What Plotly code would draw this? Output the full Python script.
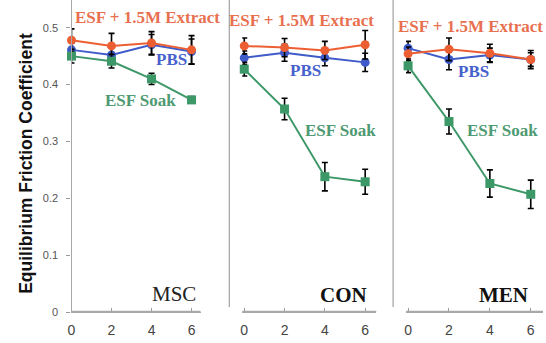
import plotly.graph_objects as go

W, H = 546, 343
PLOT_BOTTOM = 312  # pixel of y=0

days = [0, 2, 4, 6]
panels = ["MSC", "CON", "MEN"]

extract_vals = {
    "MSC": [0.478, 0.468, 0.473, 0.461],
    "CON": [0.468, 0.465, 0.460, 0.470],
    "MEN": [0.454, 0.462, 0.455, 0.444],
}
extract_err = {
    "MSC": [0.020, 0.022, 0.020, 0.025],
    "CON": [0.014, 0.016, 0.016, 0.025],
    "MEN": [0.012, 0.020, 0.016, 0.016],
}
pbs_vals = {
    "MSC": [0.461, 0.452, 0.470, 0.458],
    "CON": [0.447, 0.456, 0.447, 0.439],
    "MEN": [0.464, 0.444, 0.452, 0.444],
}
pbs_err = {
    "MSC": [0.012, 0.015, 0.018, 0.022],
    "CON": [0.012, 0.015, 0.014, 0.016],
    "MEN": [0.012, 0.018, 0.012, 0.012],
}
soak_vals = {
    "MSC": [0.450, 0.441, 0.410, 0.373],
    "CON": [0.427, 0.357, 0.238, 0.229],
    "MEN": [0.433, 0.335, 0.226, 0.207],
}
soak_err = {
    "MSC": [0.012, 0.012, 0.010, 0.006],
    "CON": [0.012, 0.019, 0.025, 0.022],
    "MEN": [0.012, 0.022, 0.024, 0.025],
}

y_ticks = [0, 0.1, 0.2, 0.3, 0.4, 0.5]
y_ticktext = ["0", "0.1", "0.2", "0.3", "0.4", "0.5"]
x_ticks = [0, 2, 4, 6]
y_title = "Equilibrium Friction Coefficient"

C_EXT = "#EC5F33"
C_PBS = "#3F5BC9"
C_SOAK = "#3D9868"
T_EXT = "#E8704F"
T_PBS = "#4660CC"
T_SOAK = "#4E9A72"
AXIS_GRAY = "#a8a8a8"


def px(x):
    return x / W


def py(y):
    return (PLOT_BOTTOM - y) / PLOT_BOTTOM


x_domains = [(68, 198), (240, 375), (405, 543)]
x_ranges = [[0, 6.45], [-0.1, 6.55], [-0.1, 6.6]]
y_range = [0, 0.5487]

fig = go.Figure()

for i, p in enumerate(panels):
    xa = "x" if i == 0 else f"x{i+1}"
    ya = "y" if i == 0 else f"y{i+1}"
    for vals, errs, color, sym in [
        (pbs_vals, pbs_err, C_PBS, "circle"),
        (extract_vals, extract_err, C_EXT, "circle"),
        (soak_vals, soak_err, C_SOAK, "square"),
    ]:
        fig.add_trace(go.Scatter(
            x=days, y=vals[p], xaxis=xa, yaxis=ya,
            mode="lines+markers",
            line=dict(color=color, width=2),
            marker=dict(color=color, size=9, symbol=sym),
            error_y=dict(type="data", array=errs[p], color="black",
                         thickness=1.6, width=3),
            cliponaxis=False, showlegend=False,
        ))

layout = dict(
    width=W, height=H,
    margin=dict(l=0, r=0, t=0, b=H - PLOT_BOTTOM),
    paper_bgcolor="white", plot_bgcolor="rgba(0,0,0,0)",
    showlegend=False,
)

for i in range(3):
    xk = "xaxis" if i == 0 else f"xaxis{i+1}"
    yk = "yaxis" if i == 0 else f"yaxis{i+1}"
    d0, d1 = x_domains[i]
    layout[xk] = dict(
        domain=[px(d0), px(d1)], range=x_ranges[i],
        anchor="y" if i == 0 else f"y{i+1}",
        tickvals=x_ticks, ticks="inside", ticklen=4, tickcolor="#999",
        showline=True, linecolor=AXIS_GRAY, linewidth=1.3,
        showgrid=False, zeroline=False,
        tickfont=dict(family="Arial, Liberation Sans", size=14, color="#444"),
        ticklabelstandoff=5,
    )
    if i == 0:
        layout[yk] = dict(
            domain=[0, 1], range=y_range, anchor="x",
            tickvals=y_ticks, ticktext=y_ticktext,
            ticks="outside", ticklen=4, tickcolor="#999",
            showline=True, linecolor=AXIS_GRAY, linewidth=1.3,
            showgrid=False, zeroline=False,
            tickfont=dict(family="Arial, Liberation Sans", size=11, color="#555"),
            ticklabelstandoff=6,
        )
    else:
        layout[yk] = dict(
            domain=[0, 1], range=y_range, anchor=f"x{i+1}",
            visible=False, showgrid=False, zeroline=False,
        )

fig.update_layout(**layout)

# panel separators
for sx in [227, 392]:
    fig.add_shape(type="line", xref="paper", yref="paper",
                  x0=px(sx), x1=px(sx), y0=py(307), y1=1,
                  line=dict(color=AXIS_GRAY, width=1.3))

# horizontal base lines of each panel (drawn explicitly so they stay visible)
for d0, d1 in x_domains:
    fig.add_shape(type="line", xref="paper", yref="paper",
                  x0=px(d0), x1=px(d1), y0=py(311.5), y1=py(311.5),
                  line=dict(color=AXIS_GRAY, width=1.3))

serif = "Liberation Serif, Times New Roman, serif"
labels = [
    ("ESF + 1.5M Extract", 145, 17, T_EXT, 17, True),
    ("ESF + 1.5M Extract", 300, 20, T_EXT, 17, True),
    ("ESF + 1.5M Extract", 470, 26, T_EXT, 17, True),
    ("PBS", 169, 60, T_PBS, 17, True),
    ("PBS", 304, 70, T_PBS, 17, True),
    ("PBS", 473, 72, T_PBS, 17, True),
    ("ESF Soak", 138, 101, T_SOAK, 17, True),
    ("ESF Soak", 339, 130, T_SOAK, 17, True),
    ("ESF Soak", 502, 131, T_SOAK, 17, True),
    ("MSC", 171, 294, "#222", 21, False),
    ("CON", 342, 295, "#111", 21, True),
    ("MEN", 503, 295, "#111", 21, True),
]
for text, x, y, col, size, bold in labels:
    fig.add_annotation(
        text=f"<b>{text}</b>" if bold else text,
        xref="paper", yref="paper", x=px(x), y=py(y),
        xanchor="center", yanchor="middle", showarrow=False,
        font=dict(family=serif, size=size, color=col),
    )

fig.add_annotation(
    text=f"<b>{y_title}</b>", xref="paper", yref="paper",
    x=px(22), y=py(163), xanchor="center", yanchor="middle",
    textangle=-90, showarrow=False,
    font=dict(family="Arial, Liberation Sans", size=17.5, color="#111"),
)

fig.write_html(
    "out.html",
    config={"displayModeBar": False},
    post_script="document.body.style.margin='0';document.body.style.padding='0';",
)
